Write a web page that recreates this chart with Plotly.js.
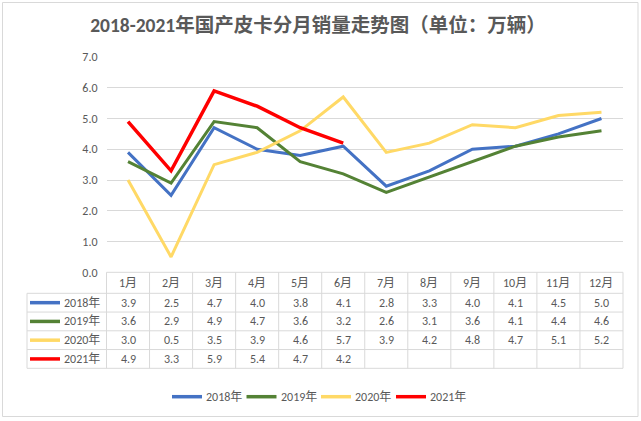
<!DOCTYPE html>
<html><head><meta charset="utf-8">
<script src="https://cdn.plot.ly/plotly-3.0.1.min.js"></script>
<style>html,body{margin:0;padding:0;background:#fff}#chart{width:641px;height:421px}</style>
</head><body><div id="chart"></div>
<script>
var months = ['1月','2月','3月','4月','5月','6月','7月','8月','9月','10月','11月','12月'];
var seriesNames = ['2018年','2019年','2020年','2021年'];
var s2018 = [3.9,2.5,4.7,4.0,3.8,4.1,2.8,3.3,4.0,4.1,4.5,5.0];
var s2019 = [3.6,2.9,4.9,4.7,3.6,3.2,2.6,3.1,3.6,4.1,4.4,4.6];
var s2020 = [3.0,0.5,3.5,3.9,4.6,5.7,3.9,4.2,4.8,4.7,5.1,5.2];
var s2021 = [4.9,3.3,5.9,5.4,4.7,4.2];
var yTicks = [0,1,2,3,4,5,6,7];
var titleText = '2018-2021年国产皮卡分月销量走势图（单位：万辆）';

var allSeries = [s2018, s2019, s2020, s2021];
var colors = ['#4472C4','#548235','#FFD966','#FF0000'];
var widths = [3,3,3,3.5];

var W = 641, H = 421;
var px = function(x){return x / W;};
var py = function(y){return 1 - y / H;};
var plotL = 106.5, plotR = 623;
var colW = (plotR - plotL) / months.length;
var tableTop = 272.3, headerBottom = 293.3, rowH = 18.75;
var tableLeft = 27;
var font = 'Calibri, Carlito, "Liberation Sans", "Noto Sans CJK SC", sans-serif';
var txtColor = '#595959';
var gridColor = '#d9d9d9';

var traces = allSeries.map(function(vals, i){
  return {
    type: 'scatter', mode: 'lines', name: seriesNames[i],
    x: months.slice(0, vals.length), y: vals,
    line: {color: colors[i], width: widths[i]},
    showlegend: false, hoverinfo: 'skip'
  };
});

var shapes = [];
var annotations = [];
// outer border
shapes.push({type:'rect', xref:'paper', yref:'paper', x0:px(2.5), x1:px(638), y0:py(416.5), y1:py(2.5), line:{color:'#d9d9d9', width:1}});

// table horizontal lines
var rowsBottom = [];
for (var r = 0; r <= seriesNames.length; r++) rowsBottom.push(headerBottom + r * rowH);
shapes.push({type:'line', xref:'paper', yref:'paper', x0:px(plotL), x1:px(plotR), y0:py(tableTop), y1:py(tableTop), line:{color:gridColor, width:1}});
rowsBottom.forEach(function(y){
  shapes.push({type:'line', xref:'paper', yref:'paper', x0:px(tableLeft), x1:px(plotR), y0:py(y), y1:py(y), line:{color:gridColor, width:1}});
});
var tableBottom = rowsBottom[rowsBottom.length - 1];
// vertical lines
shapes.push({type:'line', xref:'paper', yref:'paper', x0:px(tableLeft), x1:px(tableLeft), y0:py(headerBottom), y1:py(tableBottom), line:{color:gridColor, width:1}});
for (var c = 0; c <= months.length; c++) {
  var xx = plotL + c * colW;
  shapes.push({type:'line', xref:'paper', yref:'paper', x0:px(xx), x1:px(xx), y0:py(tableTop), y1:py(tableBottom), line:{color:gridColor, width:1}});
}
// header labels
months.forEach(function(m, c){
  annotations.push({xref:'paper', yref:'paper', x:px(plotL + (c + 0.5) * colW), y:py((tableTop + headerBottom) / 2),
    text:m, showarrow:false, font:{family:font, size:12, color:txtColor}, xanchor:'center', yanchor:'middle'});
});
// rows
allSeries.forEach(function(vals, i){
  var yc = headerBottom + (i + 0.5) * rowH;
  shapes.push({type:'line', xref:'paper', yref:'paper', x0:px(30), x1:px(60), y0:py(yc), y1:py(yc), line:{color:colors[i], width:3.5}});
  annotations.push({xref:'paper', yref:'paper', x:px(62), y:py(yc), text:seriesNames[i], showarrow:false,
    font:{family:font, size:12, color:txtColor}, xanchor:'left', yanchor:'middle'});
  vals.forEach(function(v, c){
    annotations.push({xref:'paper', yref:'paper', x:px(plotL + (c + 0.5) * colW), y:py(yc), text:v.toFixed(1), showarrow:false,
      font:{family:font, size:12, color:txtColor}, xanchor:'center', yanchor:'middle'});
  });
});
// bottom legend
var legY = 396.7;
var legStarts = [172, 246.5, 321, 396];
seriesNames.forEach(function(n, i){
  var x0 = legStarts[i];
  shapes.push({type:'line', xref:'paper', yref:'paper', x0:px(x0), x1:px(x0 + 30), y0:py(legY), y1:py(legY), line:{color:colors[i], width:3.5}});
  annotations.push({xref:'paper', yref:'paper', x:px(x0 + 32), y:py(legY), text:n, showarrow:false,
    font:{family:font, size:12, color:txtColor}, xanchor:'left', yanchor:'middle'});
});

var layout = {
  width: W, height: H,
  margin: {l:0, r:0, t:0, b:0},
  paper_bgcolor: '#ffffff', plot_bgcolor: '#ffffff',
  title: {text: '<b>' + titleText + '</b>', x: px(318), xanchor: 'center', y: py(25), yanchor: 'middle',
    font: {family: font, size: 19.5, color: txtColor}},
  xaxis: {type:'category', categoryarray: months, range:[-0.5, months.length - 0.5],
    domain:[px(plotL), px(plotR)], showticklabels:false, showgrid:false, zeroline:false, showline:false, ticks:'', fixedrange:true},
  yaxis: {range:[0,7], domain:[py(272.3), py(57)], tickvals: yTicks, ticktext: yTicks.map(function(v){return v.toFixed(1);}),
    showgrid:true, gridcolor:gridColor, gridwidth:1, zeroline:false, showline:false, ticks:'', ticklabelstandoff:8,
    tickfont:{family:font, size:12, color:txtColor}, fixedrange:true},
  shapes: shapes,
  annotations: annotations,
  showlegend: false
};
Plotly.newPlot('chart', traces, layout, {displayModeBar:false, staticPlot:true});
</script></body></html>
